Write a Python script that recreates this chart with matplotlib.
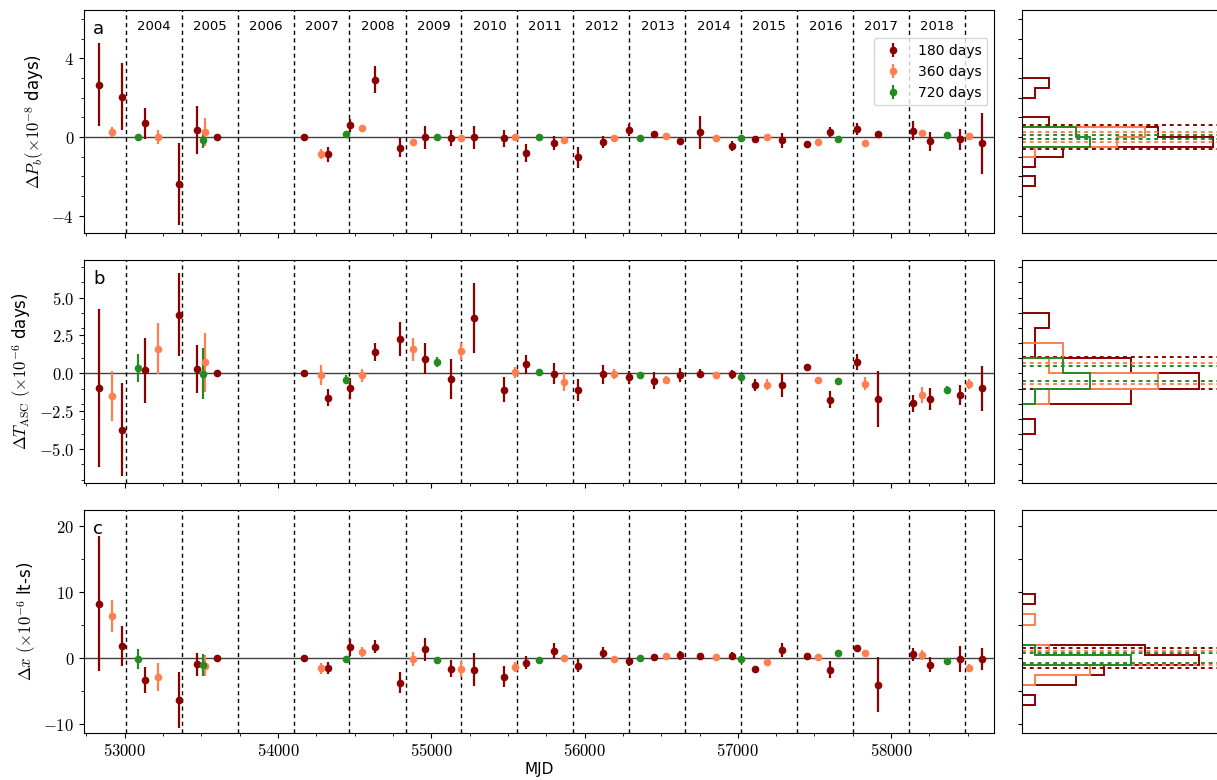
import numpy as np
import matplotlib
matplotlib.use('Agg')
import matplotlib.pyplot as plt
from matplotlib.ticker import MultipleLocator, FuncFormatter

plt.rcParams['mathtext.fontset'] = 'cm'
plt.rcParams['font.family'] = ['DejaVu Sans']

# window centres (MJD) for the three fit lengths
mjd_180 = [52834, 52979, 53130, 53355, 53473, 53603, 54169, 54325, 54469, 54630,
           54795, 54961, 55129, 55279, 55473, 55621, 55799, 55954, 56117, 56288,
           56451, 56624, 56751, 56963, 57113, 57286, 57449, 57604, 57776, 57917,
           58142, 58251, 58448, 58590]
mjd_360 = [52918, 53220, 53522, 54281, 54545, 54881, 55194, 55545, 55868, 56194,
           56531, 56857, 57190, 57521, 57827, 58199, 58507]
mjd_720 = [53085, 53510, 54441, 55039, 55703, 56363, 57022, 57654, 58363]

# panel a: delta Pb (1e-8 days)
pb_180 = [2.67, 2.05, 0.7, -2.39, 0.36, 0.0, 0.0, -0.87, 0.6, 2.92,
          -0.53, -0.02, -0.05, -0.02, -0.07, -0.8, -0.29, -1.02, -0.24, 0.36,
          0.17, -0.19, 0.24, -0.44, -0.08, -0.15, -0.36, 0.25, 0.42, 0.15,
          0.32, -0.22, -0.12, -0.32]
pb_180_err = [2.1, 1.7, 0.8, 2.1, 1.2, 0.0, 0.0, 0.38, 0.32, 0.69,
              0.46, 0.57, 0.39, 0.57, 0.42, 0.45, 0.37, 0.54, 0.3, 0.32,
              0.15, 0.15, 0.82, 0.25, 0.15, 0.38, 0.1, 0.25, 0.31, 0.12,
              0.48, 0.47, 0.54, 1.57]
pb_360 = [0.27, 0.0, 0.25, -0.88, 0.44, -0.27, -0.03, 0.0, -0.14, -0.05,
          0.08, -0.05, 0.02, -0.24, -0.29, 0.2, 0.05]
pb_360_err = [0.25, 0.36, 0.7, 0.25, 0.1, 0.1, 0.1, 0.1, 0.1, 0.1,
              0.1, 0.08, 0.08, 0.08, 0.08, 0.15, 0.12]
pb_720 = [0.03, -0.15, 0.17, -0.02, 0.0, -0.03, -0.03, -0.1, 0.1]
pb_720_err = [0.05, 0.4, 0.05, 0.05, 0.05, 0.05, 0.08, 0.05, 0.05]

# panel b: delta T_ASC (1e-6 days)
ta_180 = [-0.94, -3.7, 0.22, 3.88, 0.31, 0.0, 0.0, -1.6, -0.99, 1.4,
          2.26, 0.96, -0.37, 3.64, -1.07, 0.59, -0.02, -1.1, -0.07, -0.26,
          -0.48, -0.11, -0.03, -0.07, -0.77, -0.75, 0.44, -1.73, 0.77, -1.71,
          -1.97, -1.67, -1.43, -0.99]
ta_180_err = [5.2, 3.07, 2.14, 2.73, 1.58, 0.0, 0.0, 0.57, 0.68, 0.58,
              1.1, 1.03, 1.29, 2.31, 0.83, 0.64, 0.69, 0.75, 0.63, 0.44,
              0.58, 0.45, 0.3, 0.3, 0.42, 0.8, 0.15, 0.56, 0.54, 1.85,
              0.57, 0.71, 0.65, 1.46]
ta_360 = [-1.49, 1.64, 0.72, -0.11, -0.11, 1.58, 1.45, 0.07, -0.55, -0.04,
          -0.42, -0.11, -0.75, -0.44, -0.68, -1.43, -0.7]
ta_360_err = [1.65, 1.68, 1.92, 0.67, 0.43, 0.76, 0.56, 0.38, 0.62, 0.35,
              0.25, 0.15, 0.35, 0.15, 0.44, 0.54, 0.3]
ta_720 = [0.35, -0.02, -0.42, 0.75, 0.11, -0.11, -0.26, -0.53, -1.07]
ta_720_err = [0.93, 1.68, 0.3, 0.3, 0.15, 0.15, 0.15, 0.15, 0.25]

# panel c: delta x (1e-6 lt-s)
dx_180 = [8.28, 1.87, -3.33, -6.36, -0.91, 0.0, 0.0, -1.46, 1.67, 1.77,
          -3.69, 1.36, -1.57, -1.72, -2.78, -0.71, 1.16, -1.11, 0.86, -0.45,
          0.2, 0.45, 0.35, 0.35, -1.62, 1.26, 0.3, -1.72, 1.62, -3.99,
          0.56, -0.96, -0.15, -0.1]
dx_180_err = [10.2, 3.0, 2.0, 4.2, 1.75, 0.0, 0.0, 0.9, 1.3, 1.0,
              1.6, 1.75, 1.35, 2.55, 1.55, 1.0, 1.15, 0.95, 0.85, 0.7,
              0.45, 0.65, 0.45, 0.6, 0.35, 1.05, 0.35, 1.25, 0.4, 4.15,
              0.95, 1.2, 2.0, 1.7]
dx_360 = [6.36, -2.83, -1.16, -1.52, 0.96, -0.15, -1.67, -1.31, 0.05, -0.1,
          0.35, 0.25, -0.61, 0.25, 0.81, 0.5, -1.52]
dx_360_err = [2.45, 2.15, 1.6, 0.85, 0.8, 1.05, 1.25, 0.75, 0.4, 0.4,
              0.3, 0.25, 0.4, 0.3, 0.4, 0.8, 0.6]
dx_720 = [-0.15, -1.0, -0.15, -0.3, -0.2, 0.0, -0.1, 0.81, -0.45]
dx_720_err = [1.5, 1.7, 0.4, 0.4, 0.3, 0.3, 0.4, 0.3, 0.4]

# spread lines drawn on the histograms (180, 360, 720 days)
spread_a = [0.6, 0.25, 0.12]
spread_b = [1.05, 0.7, 0.5]
spread_c = [1.55, 1.1, 0.75]

years = list(range(2004, 2019))
year_starts = [53005, 53371, 53736, 54101, 54466, 54832, 55197, 55562,
               55927, 56293, 56658, 57023, 57388, 57754, 58119, 58484]

labels = ['180 days', '360 days', '720 days']
colors = ['#8b0000', '#ff7f50', '#228b22']
mjds = [mjd_180, mjd_360, mjd_720]

panels = [
    dict(letter='a', ylabel=r'$\Delta P_b(\times 10^{-8}$ days)',
         vals=[pb_180, pb_360, pb_720], errs=[pb_180_err, pb_360_err, pb_720_err],
         ylim=(-4.85, 6.45), major=4, minor=1, fmt='$%d$',
         bins=np.arange(-4.5, 4.51, 0.5), spread=spread_a),
    dict(letter='b', ylabel=r'$\Delta T_{\rm ASC}\ (\times 10^{-6}$ days)',
         vals=[ta_180, ta_360, ta_720], errs=[ta_180_err, ta_360_err, ta_720_err],
         ylim=(-7.2, 7.45), major=2.5, minor=1, fmt='$%.1f$',
         bins=np.arange(-7, 7.01, 1.0), spread=spread_b),
    dict(letter='c', ylabel=r'$\Delta x\ (\times 10^{-6}$ lt-s)',
         vals=[dx_180, dx_360, dx_720], errs=[dx_180_err, dx_360_err, dx_720_err],
         ylim=(-11.3, 22.4), major=10, minor=5, fmt='$%d$',
         bins=0.51 + 1.53 * np.arange(-5, 7), spread=spread_c),
]

fig = plt.figure(figsize=(12.17, 7.8), dpi=100)
bottoms = [0.7019, 0.3812, 0.0606]
height = 0.285

hist0 = None
for i, p in enumerate(panels):
    ax = fig.add_axes([0.069, bottoms[i], 0.748, height])
    if hist0 is None:
        hax = fig.add_axes([0.8395, bottoms[i], 0.165, height])
        hist0 = hax
    else:
        hax = fig.add_axes([0.8395, bottoms[i], 0.165, height], sharex=hist0)

    ax.axhline(0, color='0.25', lw=1, zorder=1)
    for ys in year_starts:
        ax.axvline(ys, color='k', ls=(0, (3, 2.5)), lw=1, zorder=1)

    for m, v, e, c, lab in zip(mjds, p['vals'], p['errs'], colors, labels):
        ax.errorbar(m, v, yerr=e, fmt='o', color=c, ms=4.5, elinewidth=1.6,
                    capsize=0, label=lab, zorder=3)

    ax.set_xlim(52734, 58673)
    ax.set_ylim(*p['ylim'])
    ax.xaxis.set_major_locator(MultipleLocator(1000))
    ax.xaxis.set_minor_locator(MultipleLocator(250))
    ax.yaxis.set_major_locator(MultipleLocator(p['major']))
    ax.yaxis.set_minor_locator(MultipleLocator(p['minor']))
    fmt = p['fmt']
    ax.yaxis.set_major_formatter(FuncFormatter(lambda v, pos, f=fmt: f % v))
    ax.xaxis.set_major_formatter(FuncFormatter(lambda v, pos: '$%d$' % v))
    ax.tick_params(labelsize=12)
    ax.set_ylabel(p['ylabel'], fontsize=12)
    if i < 2:
        ax.tick_params(axis='x', labelbottom=False)
    else:
        ax.set_xlabel('MJD', fontsize=11, labelpad=1)

    ax.text(0.01, 0.915, p['letter'], transform=ax.transAxes, fontsize=13,
            ha='left', va='center')

    if i == 0:
        for y0, y1, yr in zip(year_starts[:-1], year_starts[1:], years):
            ax.text((y0 + y1) / 2, 0.928, str(yr), transform=ax.get_xaxis_transform(),
                    ha='center', va='center', fontsize=9.5)
        ax.legend(loc='upper right', bbox_to_anchor=(1.0, 0.905), fontsize=10)

    # histograms of the residuals
    for v, c, s in zip(p['vals'], colors, p['spread']):
        hax.hist(v, bins=p['bins'], orientation='horizontal', histtype='step',
                 color=c, lw=1.4)
        hax.axhline(s, color=c, ls=(0, (2, 2)), lw=1.4)
        hax.axhline(-s, color=c, ls=(0, (2, 2)), lw=1.4)
    hax.set_ylim(*p['ylim'])
    hax.yaxis.set_major_locator(MultipleLocator(p['minor']))
    hax.tick_params(axis='y', labelleft=False, length=3)
    hax.set_xticks([])

plt.savefig('out.png', dpi=100)
plt.close()
